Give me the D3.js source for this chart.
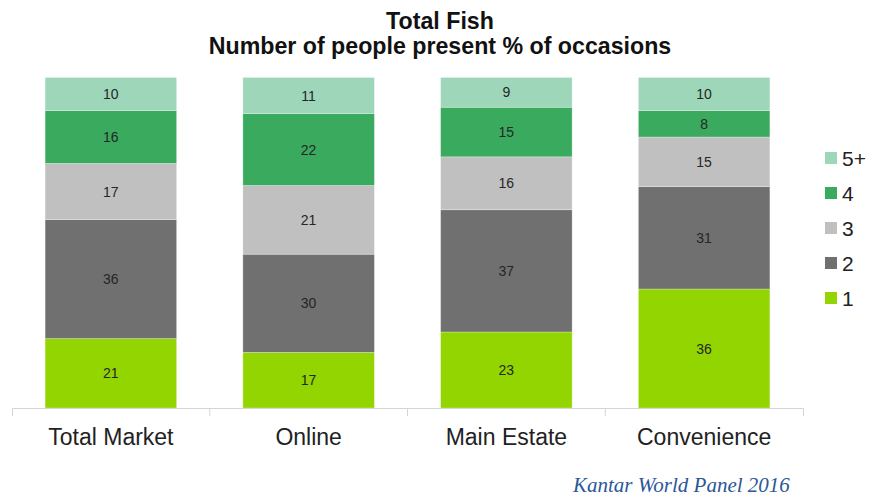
<!DOCTYPE html>
<html>
<head>
<meta charset="utf-8">
<script src="https://cdn.jsdelivr.net/npm/d3@7"></script>
<style>
  html, body { margin: 0; padding: 0; background: #fff; }
  svg { display: block; font-family: "Liberation Sans", Arial, sans-serif; }
</style>
</head>
<body>
<svg id="chart" width="883" height="499"></svg>
<script>
// Channels and the share of fish occasions by number of people present
const categories = ["Total Market", "Online", "Main Estate", "Convenience"];
const seriesKeys = ["1", "2", "3", "4", "5+"];          // stacked bottom to top
const people1    = [21, 17, 23, 36];
const people2    = [36, 30, 37, 31];
const people3    = [17, 21, 16, 15];
const people4    = [16, 22, 15, 8];
const people5    = [10, 11, 9, 10];
const seriesColors = ["#93d500", "#707070", "#c0c0c0", "#3aaa5f", "#9dd6b9"];

const rows = categories.map((c, i) => ({
  category: c,
  "1": people1[i], "2": people2[i], "3": people3[i], "4": people4[i], "5+": people5[i]
}));

const svg = d3.select("#chart");

const x = d3.scaleBand().domain(categories).range([12, 803]).padding(0);
const y = d3.scaleLinear().domain([0, 1]).range([408, 77.5]);
const color = d3.scaleOrdinal().domain(seriesKeys).range(seriesColors);
const barW = x.bandwidth() * 0.665;

// 100% stacked layout
const stack = d3.stack().keys(seriesKeys).offset(d3.stackOffsetExpand);
const layers = stack(rows);

const g = svg.append("g");
const layer = g.selectAll("g.layer")
  .data(layers)
  .join("g")
  .attr("class", "layer")
  .attr("fill", d => color(d.key));

layer.selectAll("rect")
  .data(d => d.map(p => ({ p, key: d.key })))
  .join("rect")
  .attr("x", d => x(d.p.data.category) + (x.bandwidth() - barW) / 2)
  .attr("width", barW)
  .attr("y", d => y(d.p[1]))
  .attr("height", d => y(d.p[0]) - y(d.p[1]))
  .attr("stroke", "#ffffff")
  .attr("stroke-opacity", 0.35)
  .attr("stroke-width", 0.8);

layer.selectAll("text")
  .data(d => d.map(p => ({ p, key: d.key })))
  .join("text")
  .attr("x", d => x(d.p.data.category) + x.bandwidth() / 2)
  .attr("y", d => (y(d.p[0]) + y(d.p[1])) / 2)
  .attr("dy", "0.36em")
  .attr("text-anchor", "middle")
  .attr("font-size", 14)
  .attr("fill", "#262626")
  .text(d => d.p.data[d.key]);

// Category axis
const axis = d3.axisBottom(x).tickSizeInner(0).tickSizeOuter(8);
const ax = svg.append("g").attr("transform", "translate(0,408)").call(axis);
ax.select(".domain").attr("stroke", "#d4d4d4").attr("stroke-width", 1);
ax.selectAll(".tick text")
  .attr("y", 37)
  .attr("dy", 0)
  .attr("font-size", 23)
  .attr("font-family", "Liberation Sans, Arial, sans-serif")
  .attr("fill", "#222");
ax.selectAll(".tick")
  .filter((d, i) => i > 0)
  .append("line")
  .attr("x1", -x.bandwidth() / 2).attr("x2", -x.bandwidth() / 2)
  .attr("y1", 0).attr("y2", 8)
  .attr("stroke", "#d4d4d4");

// Title
const title = svg.append("text")
  .attr("text-anchor", "middle")
  .attr("font-weight", "bold")
  .attr("font-size", 23.2)
  .attr("fill", "#111");
title.append("tspan").attr("x", 440).attr("y", 29).text("Total Fish");
title.append("tspan").attr("x", 440).attr("y", 54).text("Number of people present % of occasions");

// Legend (top series first)
const legendKeys = seriesKeys.slice().reverse();
const legend = svg.append("g").selectAll("g")
  .data(legendKeys)
  .join("g")
  .attr("transform", (d, i) => `translate(825,${158 + i * 35})`);
legend.append("rect")
  .attr("x", 0).attr("y", -6).attr("width", 12).attr("height", 12)
  .attr("fill", d => color(d));
legend.append("text")
  .attr("x", 17).attr("y", 0).attr("dy", "0.36em")
  .attr("font-size", 21)
  .attr("fill", "#222")
  .text(d => d);

// Source
svg.append("text")
  .attr("x", 573).attr("y", 492)
  .attr("font-family", "Liberation Serif, Times New Roman, serif")
  .attr("font-style", "italic")
  .attr("font-size", 21)
  .attr("fill", "#2b5797")
  .text("Kantar World Panel 2016");
</script>
</body>
</html>
